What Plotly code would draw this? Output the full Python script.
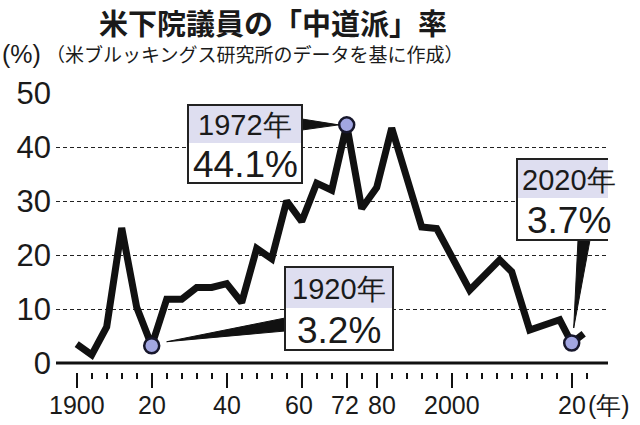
import plotly.graph_objects as go

# ---- data ----
YEARS = [1900, 1904, 1908, 1912, 1916, 1920, 1924, 1928, 1932, 1936, 1940, 1944,
         1948, 1952, 1956, 1960, 1964, 1968, 1972, 1976, 1980, 1984, 1992, 1996,
         2003, 2008, 2010, 2013, 2018, 2020, 2022]
VALUES = [3.5, 1.5, 6.7, 25.0, 10.3, 3.2, 11.8, 11.8, 14.0, 14.0, 14.7, 11.2,
          21.2, 19.3, 30.0, 26.2, 33.3, 32.0, 44.1, 28.6, 32.5, 43.5, 25.2, 24.9,
          13.5, 19.1, 16.9, 6.1, 8.0, 3.7, 5.4]
HIGHLIGHT_YEARS = [1920, 1972, 2020]
HIGHLIGHT_VALUES = [3.2, 44.1, 3.7]
HIGHLIGHT_YEAR_TEXT = ["1920年", "1972年", "2020年"]
HIGHLIGHT_VALUE_TEXT = ["3.2%", "44.1%", "3.7%"]
X_TICK_YEARS = [1900, 1920, 1940, 1960, 1972, 1980, 2000, 2020]
X_TICK_LABELS = ["1900", "20", "40", "60", "72", "80", "2000", "20"]
Y_TICKS = [0, 10, 20, 30, 40, 50]
Y_TICK_LABELS = ["0", "10", "20", "30", "40", "50"]

TITLE = "米下院議員の「中道派」率"
SUBTITLE = "（米ブルッキングス研究所のデータを基に作成）"
UNIT_Y = "(%)"
UNIT_X = "(年)"

# small horizontal nudges (px) of crowded tick labels, as in the original
LABEL_NUDGE = {1960: -3, 1972: -2, 1980: 5}


def pos(year):
    """Axis position: 4 years per tick up to 2000, stretched after 2000 as in the original."""
    return (year - 1900) / 4 if year <= 2000 else 25 + (year - 2000) / 2.5


W, H = 640, 425
L, R, T, B = 56, 32, 93, 53
XR = [-1.38, 35.42]
YR = [-1.667, 50]


def px2x(px):
    return XR[0] + (px - L) / (W - L - R) * (XR[1] - XR[0])


def py2y(py):
    return YR[1] - (py - T) / (H - T - B) * (YR[1] - YR[0])


def ppx(px):
    return (px - L) / (W - L - R)


def ppy(py):
    return (H - B - py) / (H - T - B)


FONT = "Liberation Sans, Arial, sans-serif"
CJK = "Noto Sans CJK JP"
LAV = "#dedef0"
MARK_FILL = "#a2a6e2"
MARK_LINE = "#17172c"
INK = "#1a1a1a"

fig = go.Figure()

fig.add_trace(go.Scatter(
    x=[pos(y) for y in YEARS], y=VALUES, mode="lines",
    line=dict(color="#111111", width=7), hoverinfo="skip", cliponaxis=False))

fig.add_trace(go.Scatter(
    x=[pos(y) for y in HIGHLIGHT_YEARS], y=HIGHLIGHT_VALUES, mode="markers",
    marker=dict(size=15, color=MARK_FILL, line=dict(color=MARK_LINE, width=2.5)),
    hoverinfo="skip", cliponaxis=False))

shapes = []
annotations = []

# zero baseline
shapes.append(dict(type="line", xref="paper", yref="y", x0=0, x1=1, y0=0, y1=0,
                   line=dict(color="#111111", width=3), layer="above"))

# callout boxes: (left px, right px, top px, divider px, bottom px)
BOXES = {
    1920: (285, 393, 267, 308, 350),
    1972: (188, 302, 105, 143, 183),
    2020: (517, 620, 159, 198, 240),
}
# wedge geometry: base points (px) and tip offset from the data point (px)
WEDGES = {
    1920: ((285, 318), (285, 331), (15, -4)),
    1972: ((302, 119), (302, 130), (-8, 0)),
    2020: ((578, 240), (590, 240), (2, -15)),
}

for yr, val, ytxt, vtxt in zip(HIGHLIGHT_YEARS, HIGHLIGHT_VALUES,
                               HIGHLIGHT_YEAR_TEXT, HIGHLIGHT_VALUE_TEXT):
    l, r, t, d, b = BOXES[yr]
    (bx0, by0), (bx1, by1), (tdx, tdy) = WEDGES[yr]
    tipx = pos(yr) + tdx / 15.0
    tipy = val - tdy / 5.4
    path = "M {},{} L {},{} L {},{} Z".format(px2x(bx0), py2y(by0), px2x(bx1), py2y(by1), tipx, tipy)
    shapes.append(dict(type="path", xref="x", yref="y", path=path,
                       fillcolor="#111111", line=dict(color="#111111", width=1), layer="above"))
    shapes.append(dict(type="rect", xref="x", yref="y", x0=px2x(l), x1=px2x(r),
                       y0=py2y(b), y1=py2y(t), fillcolor="white",
                       line=dict(color="#222222", width=2), layer="above"))
    shapes.append(dict(type="rect", xref="x", yref="y", x0=px2x(l + 1), x1=px2x(r - 1),
                       y0=py2y(d), y1=py2y(t + 1), fillcolor=LAV,
                       line=dict(width=0), layer="above"))
    annotations.append(dict(xref="x", yref="y", x=px2x((l + r) / 2), y=py2y((t + d) / 2 + 1),
                            text=ytxt, showarrow=False, xanchor="center", yanchor="middle",
                            font=dict(family=FONT, size=29, color=INK)))
    annotations.append(dict(xref="x", yref="y", x=px2x((l + r) / 2), y=py2y((d + b) / 2 + 1),
                            text=vtxt, showarrow=False, xanchor="center", yanchor="middle",
                            font=dict(family=FONT, size=37, color=INK)))

# x tick labels (placed under the ticks)
for yr, lab in zip(X_TICK_YEARS, X_TICK_LABELS):
    annotations.append(dict(xref="x", yref="paper", x=pos(yr), y=ppy(405), text=lab,
                            xshift=LABEL_NUDGE.get(yr, 0),
                            showarrow=False, xanchor="center", yanchor="middle",
                            font=dict(family=FONT, size=25, color=INK)))

# title and subtitle
annotations.append(dict(xref="paper", yref="paper", x=ppx(273), y=ppy(22),
                        text="<b>" + TITLE + "</b>",
                        showarrow=False, xanchor="center", yanchor="middle",
                        font=dict(family=CJK, size=29, color=INK)))
annotations.append(dict(xref="paper", yref="paper", x=ppx(0), y=ppy(54), text=UNIT_Y,
                        showarrow=False, xanchor="left", yanchor="middle",
                        font=dict(family=FONT, size=25, color=INK)))
annotations.append(dict(xref="paper", yref="paper", x=ppx(44), y=ppy(54), text=SUBTITLE,
                        showarrow=False, xanchor="left", yanchor="middle",
                        font=dict(family=CJK, size=19, color=INK)))
# x unit
annotations.append(dict(xref="paper", yref="paper", x=ppx(586), y=ppy(405), text=UNIT_X,
                        showarrow=False, xanchor="left", yanchor="middle",
                        font=dict(family=FONT, size=25, color=INK)))

fig.update_layout(
    width=W, height=H, margin=dict(l=L, r=R, t=T, b=B, autoexpand=False),
    paper_bgcolor="white", plot_bgcolor="white", showlegend=False,
    shapes=shapes, annotations=annotations,
    xaxis=dict(range=XR, showgrid=False, zeroline=False, showline=False,
               automargin=False, showticklabels=False,
               tickmode="array", tickvals=[pos(y) for y in X_TICK_YEARS],
               ticks="outside", ticklen=15, tickwidth=1.6, tickcolor="#111111",
               minor=dict(tickmode="array", tickvals=list(range(0, 35)), ticks="outside",
                          ticklen=6, tickwidth=1.6, tickcolor="#111111", showgrid=False),
               fixedrange=True),
    yaxis=dict(range=YR, tickmode="array", tickvals=Y_TICKS, ticktext=Y_TICK_LABELS,
               automargin=False,
               showgrid=True, gridcolor="#222222", gridwidth=1.3, griddash="4px,3px",
               zeroline=False, showline=False, ticks="",
               tickfont=dict(family=FONT, size=31, color=INK),
               ticklabelstandoff=4, fixedrange=True),
)

fig.write_html("out.html")
